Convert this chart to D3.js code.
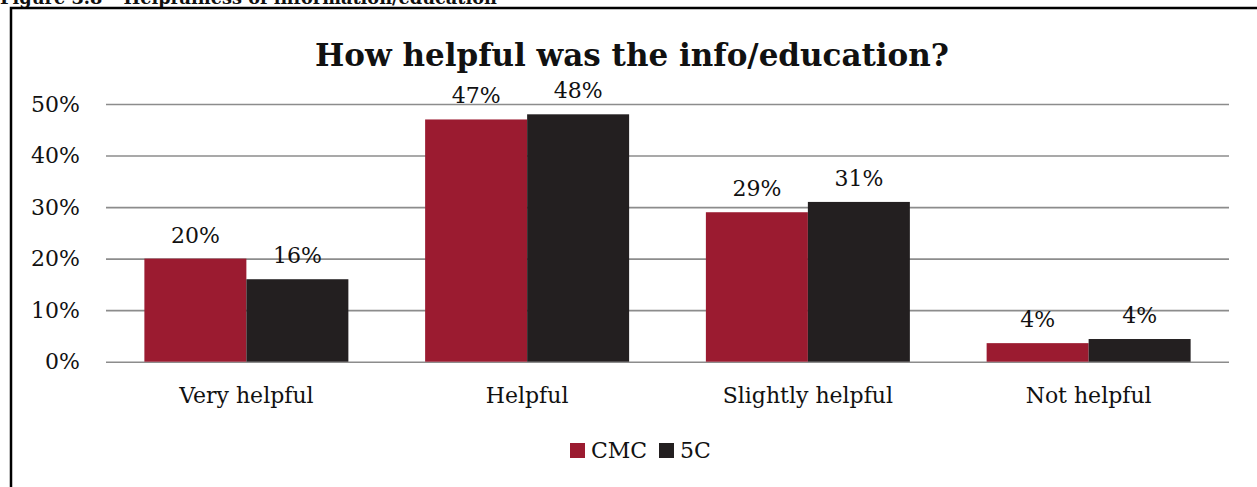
<!DOCTYPE html>
<html>
<head>
<meta charset="utf-8">
<script src="https://cdn.jsdelivr.net/npm/d3@7"></script>
<style>
  html, body { margin: 0; padding: 0; background: #fff; }
  svg { display: block; }
  text { font-family: "DejaVu Serif", "Liberation Serif", serif; fill: #111; }
</style>
</head>
<body>
<svg id="chart" width="1257" height="487"></svg>
<script>
// Survey responses: share of respondents per helpfulness rating
const categories = ["Very helpful", "Helpful", "Slightly helpful", "Not helpful"];
const seriesNames = ["CMC", "5C"];
const cmcValues = [20, 47, 29, 3.6];
const fiveCValues = [16, 48, 31, 4.4];
const yTicks = [0, 10, 20, 30, 40, 50];
const seriesColors = ["#9b1b30", "#231f20"];

const svg = d3.select("#chart");
const W = 1257, H = 487;

// Page heading (runs off the top of the page) and chart frame
svg.append("text")
  .attr("x", 0).attr("y", 4)
  .attr("font-size", 19).attr("font-weight", "bold")
  .attr("textLength", 497).attr("lengthAdjust", "spacingAndGlyphs")
  .text("Figure 3.8 – Helpfulness of information/education");

svg.append("rect")
  .attr("x", 11).attr("y", 8)
  .attr("width", W + 20).attr("height", H + 20)
  .attr("fill", "none").attr("stroke", "#000").attr("stroke-width", 2.5);

// Chart title
svg.append("text")
  .attr("x", 632).attr("y", 66)
  .attr("text-anchor", "middle")
  .attr("font-size", 31).attr("font-weight", "bold")
  .text("How helpful was the info/education?");

// Plot area
const plot = { left: 106, right: 1229, top: 104, bottom: 361.7 };

const x0 = d3.scaleBand()
  .domain(categories)
  .range([plot.left, plot.right])
  .paddingInner(0.2734)
  .paddingOuter(0.1367);

const x1 = d3.scaleBand()
  .domain(seriesNames)
  .range([0, x0.bandwidth()]);

const y = d3.scaleLinear()
  .domain([0, 50])
  .range([plot.bottom, plot.top]);

// Horizontal gridlines and y tick labels
const yAxis = d3.axisLeft(y)
  .tickValues(yTicks)
  .tickSize(-(plot.right - plot.left))
  .tickPadding(26)
  .tickFormat(d => d + "%");

const yG = svg.append("g")
  .attr("transform", `translate(${plot.left},0)`)
  .call(yAxis);
yG.select(".domain").remove();
yG.selectAll(".tick line").attr("stroke", "#8c8c8c").attr("stroke-width", 1.6);
yG.selectAll(".tick text")
  .attr("font-size", 22)
  .attr("fill", "#111")
  .attr("font-family", "DejaVu Serif, Liberation Serif, serif");

// Bars
const rows = categories.map((c, i) => ({
  category: c,
  values: [
    { series: "CMC", value: cmcValues[i] },
    { series: "5C", value: fiveCValues[i] }
  ]
}));

const color = d3.scaleOrdinal().domain(seriesNames).range(seriesColors);
const fmt = v => d3.format(".0f")(v) + "%";

const groups = svg.append("g").selectAll("g")
  .data(rows)
  .join("g")
  .attr("transform", d => `translate(${x0(d.category)},0)`);

groups.selectAll("rect")
  .data(d => d.values)
  .join("rect")
  .attr("x", d => x1(d.series))
  .attr("y", d => y(d.value))
  .attr("width", x1.bandwidth())
  .attr("height", d => y(0) - y(d.value))
  .attr("fill", d => color(d.series));

// Value labels above bars
groups.selectAll("text")
  .data(d => d.values)
  .join("text")
  .attr("x", d => x1(d.series) + x1.bandwidth() / 2)
  .attr("y", d => y(d.value) - 16)
  .attr("text-anchor", "middle")
  .attr("font-size", 22)
  .text(d => fmt(d.value));

// Category labels
svg.append("g").selectAll("text")
  .data(categories)
  .join("text")
  .attr("x", d => x0(d) + x0.bandwidth() / 2)
  .attr("y", 403)
  .attr("text-anchor", "middle")
  .attr("font-size", 22)
  .text(d => d);

// Legend
const legendItems = [
  { name: "CMC", x: 570 },
  { name: "5C", x: 659 }
];
const legend = svg.append("g").selectAll("g")
  .data(legendItems)
  .join("g")
  .attr("transform", d => `translate(${d.x},443)`);
legend.append("rect")
  .attr("width", 15).attr("height", 15)
  .attr("fill", d => color(d.name));
legend.append("text")
  .attr("x", 21).attr("y", 15)
  .attr("font-size", 22)
  .text(d => d.name);
</script>
</body>
</html>
